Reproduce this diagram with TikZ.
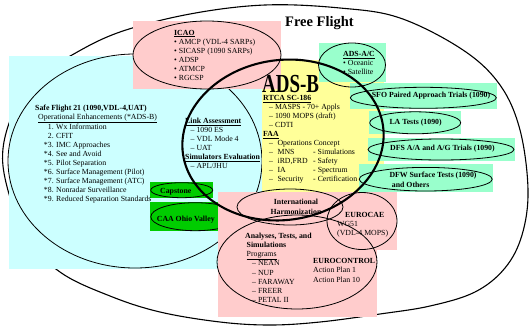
\documentclass[tikz,border=0pt]{standalone}
\usepackage{fontspec}
\setmainfont{Liberation Serif}
\usepackage{graphicx}
\definecolor{cyanbg}{HTML}{CCFFFF}
\definecolor{pinkbg}{HTML}{FFCCCC}
\definecolor{yellowbg}{HTML}{FFFF99}
\definecolor{mintbg}{HTML}{99FFCC}
\definecolor{greenbg}{HTML}{00CC00}
\newcommand\sfnum[1]{\makebox[10.5pt][r]{#1}\hspace{2.5pt}}
\begin{document}
\begin{tikzpicture}[x=1pt,y=-1pt,
  ringline/.style={draw=black, line width=0.8pt},
  outerline/.style={draw=black, line width=1.1pt},
  fatline/.style={draw=black, line width=2.1pt},
  txtblock/.style={inner sep=0pt, anchor=north west, align=left, font=\fontsize{7.8}{9}\selectfont},
  lbl/.style={inner sep=0pt, anchor=base west, font=\fontsize{7.8}{9}\selectfont\bfseries}]
\useasboundingbox (0,0) rectangle (529,329);
% Free Flight outline
\draw[outerline] plot[smooth cycle, tension=0.6] coordinates {
 (3,166) (12,115) (35,80) (72,55) (120,32) (190,14) (265,5) (340,8) (400,18)
 (463,50) (500,85) (520,130) (528,190) (522,235) (505,268) (475,292) (430,306)
 (380,314) (320,322) (270,325) (220,322) (160,312) (110,296) (60,272) (25,235)};
% Safe Flight 21
\fill[cyanbg] (9,56) rectangle (262,269);
\draw[ringline] (135,161) ellipse [x radius=127, y radius=107];
% ADS-B background
\fill[yellowbg] (262,60) rectangle (384,192);
% ICAO
\fill[pinkbg] (133,21) rectangle (281,89);
\draw[ringline] (207,55) ellipse [x radius=74, y radius=34];
% mint boxes
\fill[mintbg] (319,43) rectangle (386,82);
\fill[mintbg] (349.5,82.7) rectangle (497,108.5);
\fill[mintbg] (369,110.7) rectangle (461,134.3);
\fill[mintbg] (367.7,138.3) rectangle (515,161);
\fill[mintbg] (359,164) rectangle (492.7,191.7);
\draw[ringline] (352,65) ellipse [x radius=33.5, y radius=22];
\draw[ringline] (423.3,97.8) ellipse [x radius=73, y radius=10.5];
\draw[ringline] (415.2,122.8) ellipse [x radius=45.5, y radius=11];
\draw[ringline] (441,149.5) ellipse [x radius=73, y radius=10.5];
\draw[ringline] (425.7,179.2) ellipse [x radius=66.5, y radius=11.8];
% green boxes
\fill[greenbg] (150,181.7) rectangle (213.3,198.3);
\fill[greenbg] (150,201.7) rectangle (240,231);
\draw[ringline] (181.7,190.2) ellipse [x radius=31, y radius=7.5];
\draw[ringline] (195.3,216.7) ellipse [x radius=44.5, y radius=14];
% international area
\fill[pinkbg] (218,192) rectangle (377,317);
\fill[pinkbg] (327,192) rectangle (397,250);
\draw[ringline] (297,262) ellipse [x radius=80, y radius=47];
\draw[ringline] (290,207) ellipse [x radius=53, y radius=18];
\draw[ringline] (362,221) ellipse [x radius=35, y radius=28.5];
% ADS-B ring
\draw[fatline, rotate around={8:(283,140)}] (283,140) ellipse [x radius=101, y radius=80];
% texts
\node[inner sep=0pt, anchor=base west, font=\fontsize{14.5}{17}\selectfont\bfseries] (ff) at (285,26.7) {Free Flight};
\node[inner sep=0pt, anchor=base west, text depth=0pt] (adsb) at (262,92) {\scalebox{0.73}[1]{\fontsize{26}{30}\selectfont\bfseries ADS-B}};
\node[txtblock] (icao) at (174,28.7) {\strut\textbf{\underline{ICAO}}\\
 • AMCP (VDL-4 SARPs)\\ • SICASP (1090 SARPs)\\ • ADSP\\ • ATMCP\\ • RGCSP};
\node[txtblock] (adsac) at (343,50.2) {\strut\textbf{\underline{ADS-A/C}}\\ • Oceanic\\ • Satellite};
\node[txtblock] (rtca) at (263,95.6) {\textbf{\underline{RTCA SC-186}}\\
 \hspace*{6pt}– MASPS - 70+ Appls\\
 \hspace*{6pt}– 1090 MOPS (draft)\\
 \hspace*{6pt}– CDTI\\
 \textbf{\underline{FAA}}\\
 \hspace*{6pt}–\hspace{4.5pt}Operations Concept\\
 \hspace*{6pt}\makebox[44pt][l]{–\hspace{4.5pt}MNS}- Simulations\\
 \hspace*{6pt}\makebox[44pt][l]{–\hspace{4.5pt}iRD,FRD}- Safety\\
 \hspace*{6pt}\makebox[44pt][l]{–\hspace{4.5pt}IA}- Spectrum\\
 \hspace*{6pt}\makebox[44pt][l]{–\hspace{4.5pt}Security}- Certification};
\node[txtblock] (link) at (185,117.2) {\strut\textbf{\underline{Link Assessment}}\\
 \hspace*{5.5pt}– 1090 ES\\ \hspace*{5.5pt}– VDL Mode 4\\ \hspace*{5.5pt}– UAT\\
 \textbf{\underline{Simulators Evaluation}}\\ \hspace*{5.5pt}– APL/JHU};
\node[txtblock] (sf21) at (35,103.7) {\strut\textbf{Safe Flight 21 (1090,VDL-4,UAT)}\\
 \hspace*{3pt}\underline{Operational Enhancements (*ADS-B)}\\
 \hspace*{8pt}\sfnum{1.}Wx Information\\
 \hspace*{8pt}\sfnum{2.}CFIT\\
 \hspace*{8pt}\sfnum{*3.}IMC Approaches\\
 \hspace*{8pt}\sfnum{*4.}See and Avoid\\
 \hspace*{8pt}\sfnum{*5.}Pilot Separation\\
 \hspace*{8pt}\sfnum{*6.}Surface Management (Pilot)\\
 \hspace*{8pt}\sfnum{*7.}Surface Management (ATC)\\
 \hspace*{8pt}\sfnum{*8.}Nonradar Surveillance\\
 \hspace*{8pt}\sfnum{*9.}Reduced Separation Standards};
\node[lbl] (sfo) at (371.7,97.7) {SFO Paired Approach Trials (1090)};
\node[lbl] (la) at (389.3,124.5) {LA Tests (1090)};
\node[lbl] (dfs) at (390,150.7) {DFS A/A and A/G Trials (1090)};
\node[txtblock, font=\fontsize{7.8}{9.5}\selectfont\bfseries] (dfw) at (389.3,170.85) {\strut DFW Surface Tests (1090)\\ \hspace*{2.4pt}and Others};
\node[lbl] (cap) at (160,193) {Capstone};
\node[lbl] (caa) at (156.7,221) {CAA Ohio Valley};
\node[inner sep=0pt, anchor=north, align=center, font=\fontsize{7.8}{10}\selectfont\bfseries] (ih) at (296,197) {\strut International\\Harmonization};
\node[txtblock] (eurocae) at (337,211.2) {\strut\hspace*{8pt}\textbf{EUROCAE}\\ WG51\\ (VDL-4 MOPS)};
\node[txtblock, font=\fontsize{7.8}{9.5}\selectfont] (eurocontrol) at (313,256.35) {\strut\textbf{EUROCONTROL}\\ Action Plan 1\\ Action Plan 10};
\node[txtblock, font=\fontsize{7.8}{9.2}\selectfont] (ats) at (245,231.56) {\strut\textbf{Analyses, Tests, and}\\
 \hspace*{1.5pt}\textbf{Simulations}\\ \hspace*{1.5pt}\underline{Programs}\\
 \hspace*{7pt}– NEAN\\ \hspace*{7pt}– NUP\\ \hspace*{7pt}– FARAWAY\\ \hspace*{7pt}– FREER\\ \hspace*{7pt}– PETAL II};
\end{tikzpicture}
\end{document}
